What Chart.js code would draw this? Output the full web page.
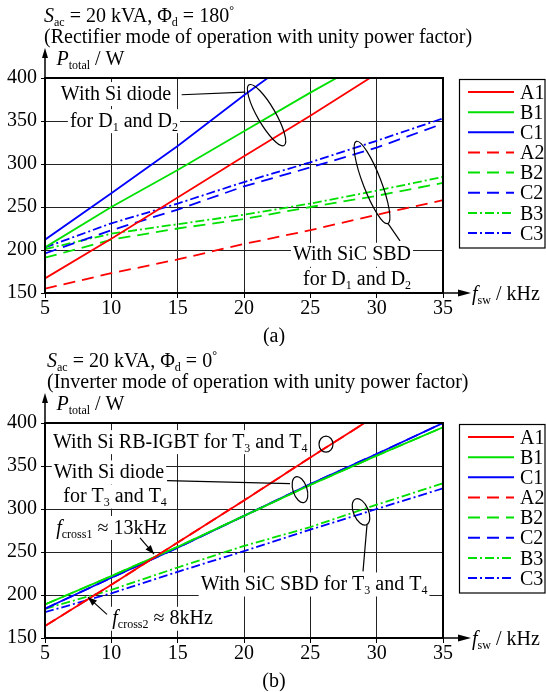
<!DOCTYPE html>
<html>
<head>
<meta charset="utf-8">
<script src="https://cdn.jsdelivr.net/npm/chart.js@4.4.1/dist/chart.umd.min.js"></script>
<style>
  html, body { margin: 0; padding: 0; background: #fff; }
  .panel { position: absolute; left: 0; width: 546px; height: 346px; }
</style>
</head>
<body>
<div class="panel" style="top:0"><canvas id="chartA" width="546" height="346"></canvas></div>
<div class="panel" style="top:345px"><canvas id="chartB" width="546" height="346"></canvas></div>
<script>
// switching frequency in kHz
const freqs = [5, 10, 15, 20, 25, 30, 35];
const seriesNames = ["A1", "B1", "C1", "A2", "B2", "C2", "B3", "C3"];

// (a) rectifier mode, total losses in W
const rectA1 = [167, 213, 261, 309, 356, 405, null];
const rectB1 = [203, 250, 293, 338, 383, 426, null];
const rectC1 = [212, 266, 321, 380, 436, null, null];
const rectA2 = [155, 173, 189, 207, 223, 241, 258];
const rectB2 = [191, 212, 225, 236, 250, 263, 278];
const rectC2 = [196, 223, 247, 274, 296, 319, 347];
const rectB3 = [201, 219, 230, 241, 254, 269, 285];
const rectC3 = [203, 231, 254, 279, 302, 327, 353];

// (b) inverter mode, total losses in W (the *2 curves lie under the *1 curves)
const invA1 = [164, 212, 261, 310, 360, 409, null];
const invB1 = [189, 222, 256, 292, 328, 362, 395];
const invC1 = [184, 220, 255, 292, 329, 364, 400];
const invA2 = [164, 212, 261, 310, 360, 409, null];
const invB2 = [189, 222, 256, 292, 328, 362, 395];
const invC2 = [184, 220, 255, 292, 329, 364, 400];
const invB3 = [184, 206, 232, 257, 279, 305, 330];
const invC3 = [180, 202, 227, 251, 276, 300, 324];

const FONT = "'Liberation Serif', 'Times New Roman', Times, serif";
const colors = { A: "#ff0000", B: "#00e000", C: "#0000ff" };
const dashes = { "1": [], "2": [12, 7], "3": [9, 3, 2, 3] };

function makeDatasets(values) {
  return seriesNames.map((name, i) => ({
    label: name,
    data: freqs.map((f, j) => ({ x: f, y: values[i][j] })),
    borderColor: colors[name[0]],
    borderDash: dashes[name[1]],
    borderWidth: 1.8,
    pointRadius: 0,
    tension: 0,
  }));
}

// rich text: parts = [text, style] with style "", "i", "sub", "sup"
function fontOf(p, size) {
  const small = p[1] === "sub" || p[1] === "sup";
  return (p[1] === "i" ? "italic " : "") + (small ? Math.round(size * 0.62) : size) + "px " + FONT;
}

function drawRich(ctx, parts, x, yMid, align, size, bg) {
  const base = yMid + size * 0.33;
  let total = 0;
  const ws = [];
  parts.forEach((p) => {
    ctx.font = fontOf(p, size);
    const w = ctx.measureText(p[0]).width;
    ws.push(w);
    total += w;
  });
  let cx = align === "center" ? x - total / 2 : align === "right" ? x - total : x;
  if (bg) {
    ctx.fillStyle = "#fff";
    ctx.fillRect(cx - 2, yMid - size * 0.55, total + 4, size * 1.2);
  }
  ctx.fillStyle = "#000";
  ctx.textAlign = "left";
  ctx.textBaseline = "alphabetic";
  parts.forEach((p, i) => {
    ctx.font = fontOf(p, size);
    const dy = p[1] === "sub" ? size * 0.2 : p[1] === "sup" ? -size * 0.42 : 0;
    ctx.fillText(p[0], cx, base + dy);
    cx += ws[i];
  });
}

function arrowHead(ctx, x1, y1, x2, y2, len, half) {
  const a = Math.atan2(y2 - y1, x2 - x1);
  ctx.beginPath();
  ctx.moveTo(x2, y2);
  ctx.lineTo(x2 - len * Math.cos(a) + half * Math.sin(a), y2 - len * Math.sin(a) - half * Math.cos(a));
  ctx.lineTo(x2 - len * Math.cos(a) - half * Math.sin(a), y2 - len * Math.sin(a) + half * Math.cos(a));
  ctx.closePath();
  ctx.fill();
}

const forD = [["for D", ""], ["1", "sub"], [" and D", ""], ["2", "sub"]];
const forT = [["for T", ""], ["3", "sub"], [" and T", ""], ["4", "sub"]];

const panelA = {
  title1: [["S", "i"], ["ac", "sub"], [" = 20 kVA, Φ", ""], ["d", "sub"], [" = 180", ""], ["°", "sup"]],
  title2: "(Rectifier mode of operation with unity power factor)",
  titleX: 44,
  caption: "(a)",
  notes: [
    { parts: [["With Si diode", ""]], x: 10.35, y: 382.5, align: "center" },
    { parts: forD, x: 10.95, y: 351, align: "center" },
    { parts: [["With SiC SBD", ""]], x: 28.14, y: 195.6, align: "center" },
    { parts: forD, x: 28.52, y: 166.4, align: "center" },
  ],
  ellipses: [
    { x: 21.7, y: 356.8, rx: 35, ry: 9, rot: 60 },
    { x: 29.65, y: 278.5, rx: 44, ry: 9, rot: 69 },
  ],
  leaders: [
    { x1: 15.3, y1: 380.5, x2: 20.1, y2: 383.5 },
    { x1: 30.86, y1: 230.6, x2: 31.76, y2: 210.7 },
  ],
};

const panelB = {
  title1: [["S", "i"], ["ac", "sub"], [" = 20 kVA, Φ", ""], ["d", "sub"], [" = 0", ""], ["°", "sup"]],
  title2: "(Inverter mode of operation with unity power factor)",
  titleX: 47,
  caption: "(b)",
  notes: [
    { parts: [["With Si RB-IGBT for T", ""], ["3", "sub"], [" and T", ""], ["4", "sub"]], x: 5.6, y: 378.9, align: "left" },
    { parts: [["With Si diode", ""]], x: 9.82, y: 343.7, align: "center" },
    { parts: forT, x: 10.28, y: 315.5, align: "center" },
    { parts: [["f", "i"], ["cross1", "sub"], [" ≈ 13kHz", ""]], x: 10.01, y: 279.1, align: "center" },
    { parts: [["f", "i"], ["cross2", "sub"], [" ≈ 8kHz", ""]], x: 13.86, y: 173.5, align: "center" },
    { parts: [["With SiC SBD for T", ""], ["3", "sub"], [" and T", ""], ["4", "sub"]], x: 25.28, y: 213.4, align: "center" },
  ],
  ellipses: [
    { x: 26.18, y: 375.4, rx: 7, ry: 8, rot: 0 },
    { x: 24.22, y: 322.5, rx: 13.5, ry: 7, rot: 72 },
    { x: 28.82, y: 296.7, rx: 14, ry: 7.5, rot: 67 },
  ],
  leaders: [
    { x1: 14.2, y1: 333, x2: 23.47, y2: 329.6 },
    { x1: 29.27, y1: 281.5, x2: 28.97, y2: 227.5 },
    { x1: 12.16, y1: 266.4, x2: 13.22, y2: 247.6, arrow: true },
    { x1: 9.67, y1: 177.5, x2: 8.24, y2: 197.5, arrow: true },
  ],
};

function makeDeco(panel) {
  return {
    id: "panelDeco",
    beforeDatasetsDraw(chart) {
      const { ctx, scales } = chart;
      ctx.save();
      panel.notes.forEach((n) => {
        drawRich(ctx, n.parts, scales.x.getPixelForValue(n.x), scales.y.getPixelForValue(n.y), n.align, 20, true);
      });
      ctx.restore();
    },
    afterDatasetsDraw(chart) {
      const { ctx, scales, chartArea: a } = chart;
      ctx.save();
      ctx.strokeStyle = "#000";
      ctx.fillStyle = "#000";
      ctx.lineWidth = 1.2;
      panel.ellipses.forEach((e) => {
        ctx.beginPath();
        ctx.ellipse(scales.x.getPixelForValue(e.x), scales.y.getPixelForValue(e.y), e.rx, e.ry, (e.rot * Math.PI) / 180, 0, Math.PI * 2);
        ctx.stroke();
      });
      panel.leaders.forEach((l) => {
        const x1 = scales.x.getPixelForValue(l.x1), y1 = scales.y.getPixelForValue(l.y1);
        const x2 = scales.x.getPixelForValue(l.x2), y2 = scales.y.getPixelForValue(l.y2);
        ctx.beginPath();
        ctx.moveTo(x1, y1);
        ctx.lineTo(x2, y2);
        ctx.stroke();
        if (l.arrow) arrowHead(ctx, x1, y1, x2, y2, 9, 3.5);
      });
      // plot frame
      ctx.lineWidth = 2;
      ctx.strokeRect(a.left, a.top, a.right - a.left, a.bottom - a.top);
      ctx.restore();
    },
    afterDraw(chart) {
      const { ctx, chartArea: a } = chart;
      ctx.save();
      ctx.strokeStyle = "#000";
      ctx.fillStyle = "#000";
      // axis arrows
      ctx.lineWidth = 1.5;
      ctx.beginPath();
      ctx.moveTo(a.left, a.top);
      ctx.lineTo(a.left, 56);
      ctx.moveTo(a.right, a.bottom);
      ctx.lineTo(a.right + 16, a.bottom);
      ctx.stroke();
      arrowHead(ctx, a.left, a.top, a.left, 48, 10, 3);
      arrowHead(ctx, a.right, a.bottom, a.right + 28, a.bottom, 13, 3.5);
      // titles and axis names
      drawRich(ctx, panel.title1, panel.titleX, 15.4, "left", 20);
      drawRich(ctx, [[panel.title2, ""]], panel.titleX, 36.4, "left", 20);
      drawRich(ctx, [["P", "i"], ["total", "sub"], [" / W", ""]], 56.5, 57.9, "left", 20);
      drawRich(ctx, [["f", "i"], ["sw", "sub"], [" / kHz", ""]], 472, a.bottom, "left", 20);
      drawRich(ctx, [[panel.caption, ""]], 274, 335, "center", 20);
      // legend box
      ctx.lineWidth = 1.2;
      ctx.strokeRect(459.5, 79.5, 85.5, 168.5);
      chart.data.datasets.forEach((ds, i) => {
        const y = 92 + i * 20.15;
        ctx.strokeStyle = ds.borderColor;
        ctx.lineWidth = 2;
        ctx.setLineDash(ds.borderDash);
        ctx.beginPath();
        ctx.moveTo(468, y);
        ctx.lineTo(514, y);
        ctx.stroke();
        ctx.setLineDash([]);
        drawRich(ctx, [[ds.label, ""]], 520, y, "left", 20);
      });
      ctx.restore();
    },
  };
}

function createChart(canvasId, values, panel) {
  const tickFont = { size: 20, family: FONT };
  return new Chart(canvasId, {
    type: "line",
    data: { datasets: makeDatasets(values) },
    options: {
      responsive: false,
      animation: false,
      devicePixelRatio: 1,
      events: [],
      layout: { padding: { top: 78, right: 103, left: 0, bottom: 0 } },
      plugins: { legend: { display: false }, tooltip: { enabled: false } },
      scales: {
        x: {
          type: "linear",
          min: 5,
          max: 35,
          afterFit: (s) => { s.height = 53; },
          ticks: { stepSize: 5, font: tickFont, color: "#000", padding: -1, maxRotation: 0, autoSkip: false },
          grid: { color: "#222", lineWidth: 1, tickLength: 5, tickColor: "#000" },
          border: { display: true, color: "#000", width: 2 },
        },
        y: {
          min: 150,
          max: 400,
          afterFit: (s) => { s.width = 45; },
          ticks: { stepSize: 50, font: tickFont, color: "#000", padding: 4 },
          grid: { color: "#222", lineWidth: 1, tickLength: 4, tickColor: "#000" },
          border: { display: true, color: "#000", width: 2 },
        },
      },
    },
    plugins: [makeDeco(panel)],
  });
}

createChart("chartA", [rectA1, rectB1, rectC1, rectA2, rectB2, rectC2, rectB3, rectC3], panelA);
createChart("chartB", [invA1, invB1, invC1, invA2, invB2, invC2, invB3, invC3], panelB);
</script>
</body>
</html>
